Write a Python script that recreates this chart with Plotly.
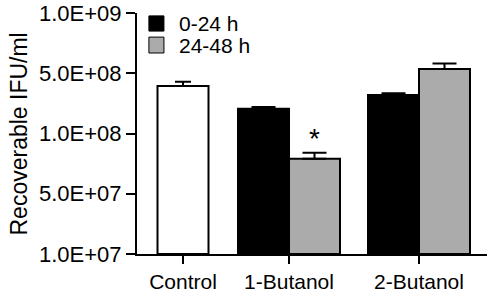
import plotly.graph_objects as go

# ---- data (y values in axis-position units: 0=1.0E+07, 1=5.0E+07, 2=1.0E+08, 3=5.0E+08, 4=1.0E+09)
categories = ["Control", "1-Butanol", "2-Butanol"]
tick_labels = ["1.0E+07", "5.0E+07", "1.0E+08", "5.0E+08", "1.0E+09"]
control_val = [2.79]
control_err = [0.07]
series_0_24 = [2.41, 2.64]        # 1-Butanol, 2-Butanol
series_0_24_err = [0.03, 0.03]
series_24_48 = [1.58, 3.07]
series_24_48_err = [0.10, 0.09]

# ---- layout positions (x axis units ~ pixels)
cat_pos = [46, 152, 282]
bw = 51

fig = go.Figure()
fig.add_trace(go.Bar(
    x=[cat_pos[0]], y=control_val, width=bw,
    marker=dict(color="white", line=dict(color="black", width=2)),
    error_y=dict(type="data", array=control_err, arrayminus=[0], color="black", thickness=2, width=8),
    showlegend=False))
fig.add_trace(go.Bar(
    x=[p - bw / 2 for p in cat_pos[1:]], y=series_0_24, width=bw, name="0-24 h",
    marker=dict(color="black", line=dict(color="black", width=2)),
    error_y=dict(type="data", array=series_0_24_err, arrayminus=[0, 0], color="black", thickness=2, width=12),
    showlegend=False))
fig.add_trace(go.Bar(
    x=[p + bw / 2 for p in cat_pos[1:]], y=series_24_48, width=bw, name="24-48 h",
    marker=dict(color="#ababab", line=dict(color="black", width=2)),
    error_y=dict(type="data", array=series_24_48_err, arrayminus=[0, 0], color="black", thickness=2, width=12),
    showlegend=False))

font = dict(family="Liberation Sans, Arial, sans-serif", size=21, color="black")

# significance star
fig.add_annotation(x=cat_pos[1] + bw / 2, y=series_24_48[0] + series_24_48_err[0],
                   text="*", showarrow=False, yanchor="bottom", yshift=-3,
                   font=dict(family=font["family"], size=28, color="black"))

# legend (manual)
legend_items = [("0-24 h", "black", 0.988, 0.925), ("24-48 h", "#ababab", 0.900, 0.834)]
for label, col, y1, y0 in legend_items:
    fig.add_shape(type="rect", xref="paper", yref="paper", x0=0.034, x1=0.077, y0=y0, y1=y1,
                  fillcolor=col, line=dict(color="black", width=1))
    fig.add_annotation(xref="paper", yref="paper", x=0.115, y=(y0 + y1) / 2, text=label,
                       showarrow=False, xanchor="left", yanchor="middle", font=font)

# y-axis title
fig.add_annotation(xref="paper", yref="paper", x=-0.34, y=0.5, text="Recoverable IFU/ml",
                   textangle=-90, showarrow=False, xanchor="center", yanchor="middle",
                   font=dict(family=font["family"], size=23, color="black"))

fig.update_layout(
    width=487, height=292, margin=dict(l=137, r=0, t=13, b=38, autoexpand=False),
    paper_bgcolor="white", plot_bgcolor="white", barmode="overlay", font=font,
    xaxis=dict(range=[0, 350], tickvals=cat_pos, ticktext=categories, showline=True,
               linecolor="black", linewidth=2, ticks="outside", ticklen=8, tickwidth=2,
               tickcolor="black", showgrid=False, zeroline=False, fixedrange=True,
               automargin=False, tickfont=dict(size=21)),
    yaxis=dict(range=[0, 4], tickvals=[0, 1, 2, 3, 4], ticktext=tick_labels, showline=True,
               linecolor="black", linewidth=2, ticks="outside", ticklen=9, tickwidth=2,
               tickcolor="black", showgrid=False, zeroline=False, fixedrange=True,
               automargin=False, tickfont=dict(size=22)),
)

fig.write_html("out.html", config={"displayModeBar": False},
               post_script="document.body.style.margin='0';document.body.style.padding='0';")
